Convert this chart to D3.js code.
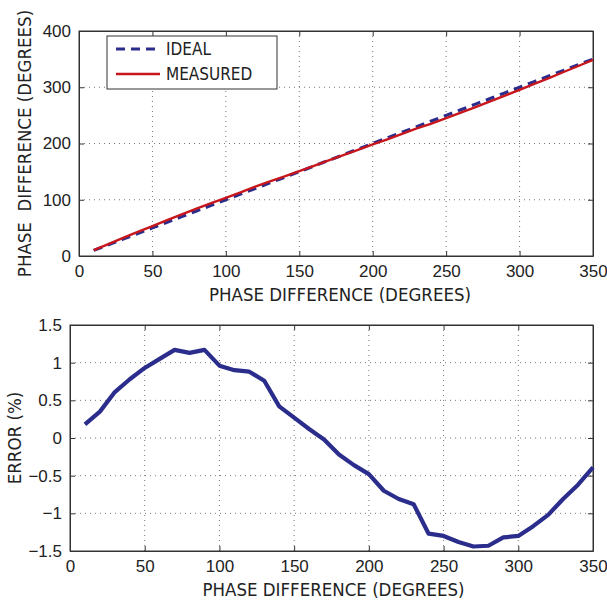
<!DOCTYPE html>
<html lang="en">
<head>
<meta charset="UTF-8">
<title>Phase difference</title>
<script src="https://cdnjs.cloudflare.com/ajax/libs/d3/7.8.5/d3.min.js"></script>
<style>
  body { margin: 0; background: #fff; }
  text { font-family: "Liberation Sans Narrow", "DejaVu Sans Condensed", "Liberation Sans", sans-serif; fill: #222; }
</style>
</head>
<body>
<div id="chart"></div>
<script>
var phase = [10,20,30,40,50,60,70,80,90,100,110,120,130,140,150,160,170,180,190,200,210,220,230,240,250,260,270,280,290,300,310,320,330,340,350];
var ideal = [10,20,30,40,50,60,70,80,90,100,110,120,130,140,150,160,170,180,190,200,210,220,230,240,250,260,270,280,290,300,310,320,330,340,350];
var measured = [10.6,21.3,32.2,42.8,53.3,63.8,74.2,84.1,94.2,103.5,113.2,123.2,132.7,141.5,151.0,160.4,169.9,179.2,188.7,198.3,207.5,217.1,226.8,235.4,245.3,255.0,264.8,274.9,285.2,295.3,305.8,316.3,327.1,337.8,348.6];
var error = [0.18,0.35,0.61,0.78,0.93,1.05,1.17,1.13,1.17,0.96,0.90,0.88,0.76,0.42,0.27,0.12,-0.02,-0.22,-0.36,-0.48,-0.70,-0.81,-0.88,-1.27,-1.30,-1.38,-1.44,-1.43,-1.32,-1.30,-1.17,-1.02,-0.81,-0.62,-0.39];

var xTicks = [0,50,100,150,200,250,300,350];
var topYTicks = [0,100,200,300,400];
var botYTicks = [-1.5,-1,-0.5,0,0.5,1,1.5];

var navy = "#2b2d8c";
var red = "#c8161d";

var svg = d3.select("#chart").append("svg")
    .attr("width", 607)
    .attr("height", 601);

function panel(box, yDomain, yTicks, yFmt, xTitle, yTitle, yTitleX, xTitleShift) {
    var x = d3.scaleLinear().domain([0, 350]).range([box.left, box.right]);
    var y = d3.scaleLinear().domain(yDomain).range([box.bottom, box.top]);
    var g = svg.append("g");

    // dotted grid
    g.selectAll(".vg").data(xTicks.slice(1, -1)).enter().append("line")
        .attr("x1", d => x(d)).attr("x2", d => x(d))
        .attr("y1", box.top).attr("y2", box.bottom)
        .attr("stroke", "#777").attr("stroke-width", 1).attr("stroke-dasharray", "1,4");
    g.selectAll(".hg").data(yTicks.slice(1, -1)).enter().append("line")
        .attr("y1", d => y(d)).attr("y2", d => y(d))
        .attr("x1", box.left).attr("x2", box.right)
        .attr("stroke", "#777").attr("stroke-width", 1).attr("stroke-dasharray", "1,4");

    // axes, ticks pointing inward
    g.append("g").attr("transform", "translate(0," + box.bottom + ")")
        .call(d3.axisBottom(x).tickValues(xTicks).tickSizeInner(-5).tickSizeOuter(0).tickPadding(9));
    g.append("g").attr("transform", "translate(" + box.left + ",0)")
        .call(d3.axisLeft(y).tickValues(yTicks).tickFormat(yFmt).tickSizeInner(-5).tickSizeOuter(0).tickPadding(8));
    g.append("g").attr("transform", "translate(0," + box.top + ")")
        .call(d3.axisTop(x).tickValues(xTicks).tickSizeInner(-5).tickSizeOuter(0).tickFormat(""));
    g.append("g").attr("transform", "translate(" + box.right + ",0)")
        .call(d3.axisRight(y).tickValues(yTicks).tickSizeInner(-5).tickSizeOuter(0).tickFormat(""));
    g.selectAll(".domain").attr("stroke", "#333");
    g.selectAll(".tick line").attr("stroke", "#333");
    g.selectAll(".tick text").attr("font-size", 17).style("font-family", "inherit");

    g.append("rect")
        .attr("x", box.left).attr("y", box.top)
        .attr("width", box.right - box.left).attr("height", box.bottom - box.top)
        .attr("fill", "none").attr("stroke", "#333").attr("stroke-width", 1);

    g.append("text")
        .attr("x", (box.left + box.right) / 2 + xTitleShift).attr("y", box.bottom + 45)
        .attr("text-anchor", "middle").attr("font-size", 18.5)
        .text(xTitle);
    g.append("text")
        .attr("transform", "translate(" + yTitleX + "," + ((box.top + box.bottom) / 2) + ") rotate(-90)")
        .attr("text-anchor", "middle").attr("font-size", 18.5)
        .style("white-space", "pre")
        .text(yTitle);

    return { x: x, y: y, g: g };
}

// top panel
var topP = panel({ left: 79, right: 593, top: 31, bottom: 256 }, [0, 400], topYTicks, d3.format("d"),
    "PHASE DIFFERENCE (DEGREES)", "PHASE  DIFFERENCE (DEGREES)", 31, 4);

var lineTop = d3.line().x((d, i) => topP.x(phase[i])).y(d => topP.y(d));
topP.g.append("path").datum(ideal)
    .attr("d", lineTop).attr("fill", "none")
    .attr("stroke", navy).attr("stroke-width", 3.2).attr("stroke-dasharray", "9,6");
topP.g.append("path").datum(measured)
    .attr("d", lineTop).attr("fill", "none")
    .attr("stroke", red).attr("stroke-width", 2.4);

// legend
var lg = topP.g.append("g");
lg.append("rect").attr("x", 107).attr("y", 36).attr("width", 170).attr("height", 53)
    .attr("fill", "#fff").attr("stroke", "#333").attr("stroke-width", 1);
lg.append("line").attr("x1", 116).attr("x2", 160).attr("y1", 49).attr("y2", 49)
    .attr("stroke", navy).attr("stroke-width", 3.2).attr("stroke-dasharray", "9,6");
lg.append("line").attr("x1", 116).attr("x2", 160).attr("y1", 74).attr("y2", 74)
    .attr("stroke", red).attr("stroke-width", 2.4);
lg.append("text").attr("x", 166).attr("y", 55).attr("font-size", 17).text("IDEAL");
lg.append("text").attr("x", 166).attr("y", 80).attr("font-size", 17).text("MEASURED");

// bottom panel
var minusFmt = function(d) { return d3.format("")(d).replace("-", "\u2212"); };
var botP = panel({ left: 70, right: 593, top: 325, bottom: 551 }, [-1.5, 1.5], botYTicks, minusFmt,
    "PHASE DIFFERENCE (DEGREES)", "ERROR (%)", 21, 2);

var lineBot = d3.line().x((d, i) => botP.x(phase[i])).y(d => botP.y(d));
botP.g.append("path").datum(error)
    .attr("d", lineBot).attr("fill", "none")
    .attr("stroke", navy).attr("stroke-width", 4.2).attr("stroke-linejoin", "round");
</script>
</body>
</html>
